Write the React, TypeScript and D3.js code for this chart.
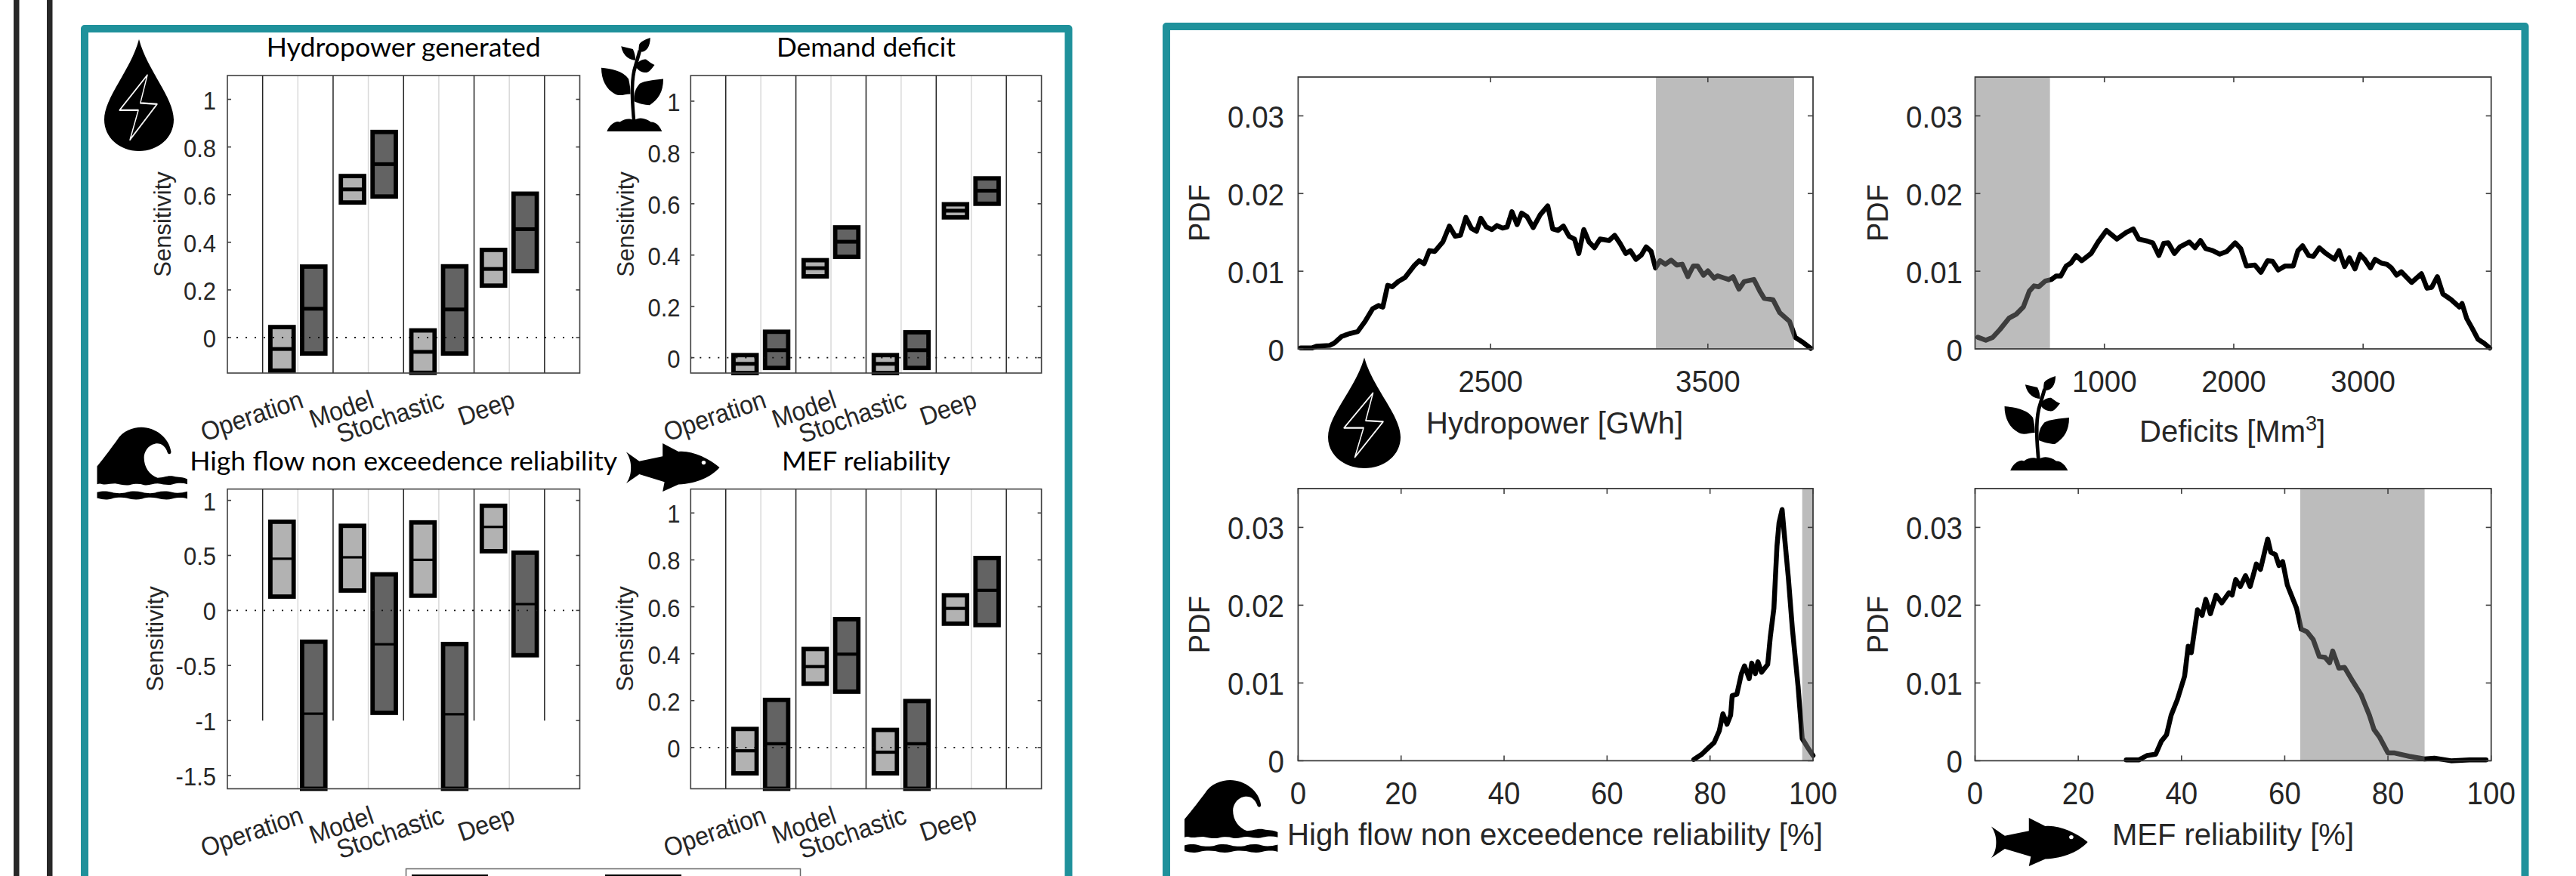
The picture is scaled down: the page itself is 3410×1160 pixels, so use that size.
import React from "react";
import * as d3 from "d3";

const FONT = "'Liberation Sans', Arial, sans-serif";
const TEXT = "#262626";
const TEAL = "#1f919b";

const categories = ["Operation", "Model", "Stochastic", "Deep"];

// [upper, median, lower] for Operation, Model, Stochastic, Deep
const hydroLight = [[0.044, -0.048, -0.139], [0.678, 0.622, 0.567], [0.03, -0.06, -0.148], [0.368, 0.288, 0.218]];
const hydroDark = [[0.298, 0.121, -0.067], [0.863, 0.728, 0.592], [0.299, 0.118, -0.067], [0.604, 0.455, 0.279]];
const deficitLight = [[0.01, -0.024, -0.06], [0.38, 0.349, 0.317], [0.01, -0.024, -0.06], [0.598, 0.573, 0.547]];
const deficitDark = [[0.101, 0.029, -0.04], [0.508, 0.452, 0.393], [0.099, 0.029, -0.04], [0.699, 0.651, 0.6]];
const highLight = [[0.806, 0.47, 0.126], [0.769, 0.483, 0.181], [0.8, 0.46, 0.134], [0.951, 0.759, 0.538]];
const highDark = [[-0.284, -0.938, -1.62], [0.328, -0.307, -0.93], [-0.305, -0.943, -1.62], [0.525, 0.058, -0.407]];
const mefLight = [[0.079, -0.014, -0.11], [0.42, 0.345, 0.272], [0.075, -0.02, -0.11], [0.649, 0.593, 0.528]];
const mefDark = [[0.203, 0.016, -0.176], [0.547, 0.398, 0.238], [0.198, 0.016, -0.176], [0.808, 0.67, 0.522]];

const ticks02 = [0, 0.2, 0.4, 0.6, 0.8, 1];
const ticks05 = [-1.5, -1, -0.5, 0, 0.5, 1];

// PDF curves: x value and density in thousandths
const hydroX = [1626,1677,1698,1759,1780,1814,1851,1888,1922,1957,1984,2004,2026,2047,2075,2106,2147,2171,2194,2218,2243,2280,2310,2337,2361,2386,2412,2435,2455,2480,2506,2529,2555,2576,2598,2622,2643,2667,2696,2729,2763,2786,2810,2835,2861,2886,2906,2929,2953,2978,3004,3045,3071,3096,3122,3143,3169,3194,3216,3239,3259,3280,3304,3331,3357,3382,3408,3433,3453,3480,3500,3529,3545,3576,3596,3616,3643,3667,3712,3739,3759,3800,3831,3876,3902,3933,3974];
const hydroY = [.11,.11,.33,.45,.74,1.6,1.97,2.23,3.53,5.17,5.58,5.39,8.18,8,8.67,9.19,10.68,11.35,10.97,12.65,12.54,13.76,15.81,14.51,14.62,16.93,15.51,15.14,16.81,15.7,15.36,15.88,15.55,15.7,17.67,16,17.48,17.04,15.62,17.3,18.41,15.44,15.25,15.81,14.51,14.14,12.28,15.36,13.76,13.02,14.14,13.95,14.62,13.58,12.28,12.65,11.53,12.09,13.13,12.54,10.42,11.35,10.9,11.42,10.79,10.9,9.3,10.68,10.68,9.49,10.04,9.11,9.41,9.11,8.93,9.3,7.7,8.67,8.93,7.44,6.51,6.32,4.65,3.53,1.49,.93,.07];
const deficitX = [22,83,137,192,264,318,373,420,456,492,543,590,626,662,705,741,781,825,897,951,1016,1096,1168,1223,1266,1331,1374,1421,1458,1494,1541,1584,1657,1700,1743,1783,1837,1892,1946,2011,2054,2098,2163,2210,2261,2300,2344,2398,2460,2496,2532,2579,2615,2662,2713,2778,2814,2857,2894,2937,2977,3013,3056,3093,3140,3183,3219,3259,3295,3375,3451,3494,3530,3574,3617,3682,3744,3765,3801,3845,3888,3935,3979];
const deficitY = [1.49,1.12,1.49,2.49,3.98,4.46,5.39,7.44,8.11,8,8.74,8.93,9.37,9.37,10.68,11.05,12.02,11.35,12.28,13.76,15.25,14.14,14.99,15.44,14.14,13.88,13.65,12.02,13.58,13.65,12.28,13.13,13.76,13.02,13.95,12.91,12.65,12.2,12.54,13.65,12.91,10.68,10.79,9.86,11.35,11.27,10.16,10.68,10.68,12.65,13.28,12.02,11.9,13.02,12.28,11.53,12.65,10.6,11.72,10.3,12.16,11.53,10.42,11.53,11.05,10.9,10.42,9.49,9.93,8.56,9.67,7.81,7.92,9.3,7.07,6.32,5.39,5.84,3.91,2.6,1.23,.74,.11];
const highX = [76.85,78.4,79.7,80.8,81.8,82.5,83.3,84,84.3,85.2,86.1,86.7,87.6,88.1,88.8,89.3,90,91.2,91.7,92.4,93,93.4,94,94.4,95.2,96,97.1,97.9,99,100];
const highY = [.17,.84,1.67,2.34,3.85,6.03,4.69,5.86,8.37,8.54,11.2,12.2,10.55,12.55,11.2,12.72,11.38,12.39,15.9,19.6,27.6,30.6,32.3,29.3,23.6,16.9,9.54,2.85,1.67,.67];
const mefX = [29.3,31.7,33.3,35,36.1,37.1,38,39.2,40.6,41.3,41.9,43.1,44,44.7,45.6,46.7,47.8,49.2,49.8,50.5,51.4,52.4,53.3,54.5,55.3,56.7,57.3,58.2,58.9,59.6,60.5,62.3,63.2,64.3,65.5,66.7,67.8,68.7,69.3,70.5,71.6,73.2,74.8,76.4,77.3,78.4,80,81.3,84.1,87.1,89,92.2,95.8,99];
const mefY = [.1,.1,.67,.84,2.51,3.35,5.86,7.87,10.88,14.73,13.9,19.4,18.7,20.75,18.9,21.3,20.3,21.6,21.3,23.3,22.4,23.8,22.4,25.3,24.6,28.5,26.8,26.5,25.1,25.6,22.6,19.6,16.9,16.6,15.6,13.4,13.3,12.6,14.1,11.9,12,10.2,8.5,5.86,4.02,3.01,1,1,.57,.24,.34,0,.1,.1];

const pdfTicks = [0, 0.01, 0.02, 0.03];

// ---------- icons (drawn in a 100x100 box and stretched) ----------
function Icon({ x0, y0, x1, y1, children }: any) {
  return <g transform={`translate(${x0},${y0}) scale(${(x1 - x0) / 100},${(y1 - y0) / 100})`}>{children}</g>;
}
const Drop = (p: any) => (
  <Icon {...p}>
    <path d="M50 0 C38 28 0 52 0 72 C0 88 22 100 50 100 C78 100 100 88 100 72 C100 52 62 28 50 0Z" fill="#000" />
    <path d="M62 32 L52 57 L76 58 L37 90 L49 63.5 L22 63.5Z" fill="none" stroke="#fff" strokeWidth={1.5} strokeLinejoin="round" />
  </Icon>
);
const Plant = (p: any) => (
  <Icon {...p}>
    <g fill="#000">
      <path d="M53 92 C50 70 48 50 53 35 L62 14" fill="none" stroke="#000" strokeWidth={5.5} />
      <path d="M0 32 C15 33 35 35 44 44 C46 50 47 54 47 60 C38 60 30 63 22 60 C8 55 0 45 0 32Z" />
      <path d="M100 44 C85 45 70 46 62 49 C55 54 52 60 53 68 C60 70 70 72 78 72 C92 66 100 58 100 44Z" />
      <path d="M79 0 C70 2 61 5 61 8 C60 12 60 15 62 15 C72 16 79 10 79 0Z" />
      <path d="M32 9 L51 12 C54 16 55 20 55 24 C47 24 35 20 32 9Z" />
      <path d="M55 30 C60 24 68 23 72 23 C78 26 82 28 86 29 C80 34 76 38 70 37 C64 37 58 34 55 30Z" />
      <path d="M9 100 C14 92 24 88 30 90 C38 86 46 86 53 88 C62 84 72 86 80 90 C90 90 95 96 98 100Z" />
    </g>
  </Icon>
);
const Wave = (p: any) => (
  <Icon {...p}>
    <g fill="#000">
      <path d="M0 54 C8 42 18 25 22 18 C28 5 40 0 49 0 C65 0 80 15 82 34 C82 38 79 38 78 35 C76 26 70 21 64 23 C56 25 52 35 52 42 C52 55 58 66 67 70 C74 70 78 66 85 68 C90 70 95 68 100 72 L100 79 C95 77 90 77 84 79 C78 81 74 79 67 78 C62 78 58 81 52 80 C47 78 42 78 36 80 C30 81 26 79 20 78 C15 78 10 80 6 79 C4 78 2 78 0 79Z" />
      <path d="M0 90 C6 88 10 88 16 90 C22 92 28 92 33 90 C38 88 44 88 50 90 C56 92 62 92 66 90 C72 88 78 88 83 90 C88 92 94 91 100 89 L100 99 C95 97 90 97 83 99 C78 101 72 100 66 98 C60 97 56 97 50 99 C44 101 38 100 33 98 C28 97 22 97 16 99 C10 101 6 100 0 98Z" />
    </g>
  </Icon>
);
const Fish = (p: any) => (
  <Icon {...p}>
    <path d="M0 18 L14 37 L39 27 L39 0 L56 17 C70 14 88 30 100 50 C92 68 76 84 56 85 L39 100 L41 80 L14 64 L0 83 C4 72 5 62 5 50 C5 40 4 30 0 18Z" fill="#000" />
    <ellipse cx={83} cy={40} rx={2.2} ry={4} fill="#fff" />
  </Icon>
);

// ---------- sensitivity box panel ----------
function BoxPanel({ title, titleW, titleY, box, yDomain, ticks, light, dark, labelX, tickRight, medW }: any) {
  const [x0, x1, y0, y1] = box;
  const x = d3.scaleLinear().domain([0, 10]).range([x0, x1]);
  const y = d3.scaleLinear().domain(yDomain).range([y1, y0]);
  const dividers = [1, 3, 5, 7, 9];
  const greys = [2, 4, 6, 8];
  const drawBox = (v: number[], c: number, fill: string, k: string) => (
    <g key={k}>
      <rect x={x(c - 0.33)} width={x(c + 0.33) - x(c - 0.33)} y={y(v[0])} height={y(v[2]) - y(v[0])} fill={fill} stroke="#000" strokeWidth={5.8} />
      <line x1={x(c - 0.33)} x2={x(c + 0.33)} y1={y(v[1])} y2={y(v[1])} stroke="#000" strokeWidth={medW} />
    </g>
  );
  return (
    <g fontFamily={FONT} fill={TEXT}>
      <text x={(x0 + x1) / 2} y={titleY} textAnchor="middle" fontFamily="Lato" fontSize={34} fill="#000" textLength={titleW} lengthAdjust="spacingAndGlyphs">{title}</text>
      {greys.map((g) => <line key={g} x1={x(g)} x2={x(g)} y1={y0} y2={y1} stroke="#d9d9d9" strokeWidth={1.5} />)}
      {dividers.map((g) => <line key={g} x1={x(g)} x2={x(g)} y1={y(yDomain[1])} y2={y(Math.max(-1, yDomain[0]))} stroke="#222" strokeWidth={1.5} />)}
      {light.map((v: number[], i: number) => drawBox(v, 1.55 + 2 * i, "#b2b2b2", "l" + i))}
      {dark.map((v: number[], i: number) => drawBox(v, 2.45 + 2 * i, "#636363", "d" + i))}
      <line x1={x0} x2={x1} y1={y(0)} y2={y(0)} stroke="#111" strokeWidth={1.8} strokeDasharray="2 10" />
      <rect x={x0} y={y0} width={x1 - x0} height={y1 - y0} fill="none" stroke="#404040" strokeWidth={1.6} />
      {ticks.map((t: number) => (
        <g key={t}>
          <line x1={x0} x2={x0 + 5} y1={y(t)} y2={y(t)} stroke="#404040" strokeWidth={1.6} />
          <line x1={x1} x2={x1 - 5} y1={y(t)} y2={y(t)} stroke="#404040" strokeWidth={1.6} />
          <text transform={`translate(${tickRight},${y(t) + 13}) scale(1,1.05)`} textAnchor="end" fontSize={31}>{t}</text>
        </g>
      ))}
      <text transform={`translate(${labelX},${(y0 + y1) / 2}) rotate(-90)`} y={0} textAnchor="middle" fontSize={31}>Sensitivity</text>
      {categories.map((c, i) => (
        <text key={c} transform={`translate(${x(2.2 + 2 * i)},${y1 + 45}) rotate(-19) scale(1,1.08)`} textAnchor="end" fontSize={32}>{c}</text>
      ))}
    </g>
  );
}

// ---------- PDF panel ----------
function PdfPanel({ box, xDomain, xTicks, xs, ys, band, tickRight, pdfX, xlabel, xlabelX, xlabelW, xlabelY, tickY, stretch }: any) {
  const [x0, x1, y0, y1] = box;
  const x = d3.scaleLinear().domain(xDomain).range([x0, x1]);
  const y = d3.scaleLinear().domain([0, 0.035]).range([y1, y0]);
  const line = d3.line<number>().x((d) => x(d)).y((_, i) => y(ys[i] / 1000));
  return (
    <g fontFamily={FONT} fill={TEXT}>
      <path d={line(xs) as string} fill="none" stroke="#000" strokeWidth={6.5} strokeLinejoin="round" strokeLinecap="round" />
      <rect x={x(band[0])} width={x(band[1]) - x(band[0])} y={y0} height={y1 - y0} fill="#797979" fillOpacity={0.5} />
      <rect x={x0} y={y0} width={x1 - x0} height={y1 - y0} fill="none" stroke="#333" strokeWidth={1.7} />
      {pdfTicks.map((t) => (
        <g key={t}>
          <line x1={x0} x2={x0 + 7} y1={y(t)} y2={y(t)} stroke="#404040" strokeWidth={1.6} />
          <line x1={x1} x2={x1 - 7} y1={y(t)} y2={y(t)} stroke="#404040" strokeWidth={1.6} />
          <text transform={`translate(${tickRight},${y(t) + 15.5}) scale(1,${stretch})`} textAnchor="end" fontSize={38.5}>{t}</text>
        </g>
      ))}
      {xTicks.map((t: number) => (
        <g key={t}>
          <line x1={x(t)} x2={x(t)} y1={y1} y2={y1 - 7} stroke="#404040" strokeWidth={1.6} />
          <line x1={x(t)} x2={x(t)} y1={y0} y2={y0 + 7} stroke="#404040" strokeWidth={1.6} />
          <text transform={`translate(${x(t)},${tickY}) scale(1,${stretch})`} textAnchor="middle" fontSize={38.5}>{t}</text>
        </g>
      ))}
      <text transform={`translate(${pdfX},${(y0 + y1) / 2 + 0}) rotate(-90)`} textAnchor="middle" fontSize={38}>PDF</text>
      {xlabelW ? (
        <text x={xlabelX} y={xlabelY} fontSize={40} textLength={xlabelW} lengthAdjust="spacingAndGlyphs">{xlabel}</text>
      ) : (
        <text x={xlabelX} y={xlabelY} fontSize={40}>
          {xlabel}
          <tspan fontSize={27} dy={-15}>3</tspan>
          <tspan dy={15}>]</tspan>
        </text>
      )}
    </g>
  );
}

export default function App() {
  return (
    <svg width={3410} height={1160} viewBox="0 0 3410 1160" style={{ position: "absolute", left: 0, top: 0, display: "block", background: "#fff" }}>
      {/* separators */}
      <rect x={18} y={0} width={7.5} height={1160} fill="#282828" />
      <rect x={62} y={0} width={7.5} height={1160} fill="#282828" />
      {/* teal frames */}
      <path d="M112 1170 V38 H1414.5 V1170" fill="none" stroke={TEAL} strokeWidth={10} strokeLinejoin="round" />
      <path d="M1544 1170 V35 H3342.5 V1170" fill="none" stroke={TEAL} strokeWidth={10} strokeLinejoin="round" />

      <BoxPanel title="Hydropower generated" titleW={363} titleY={75} box={[301, 767.5, 100, 494]} yDomain={[-0.149, 1.1]} ticks={ticks02} light={hydroLight} dark={hydroDark} labelX={226} tickRight={286} medW={5} />
      <BoxPanel title="Demand deficit" titleW={237} titleY={75} box={[914.3, 1378.6, 100, 494]} yDomain={[-0.06, 1.1]} ticks={ticks02} light={deficitLight} dark={deficitDark} labelX={839} tickRight={900.5} medW={5} />
      <BoxPanel title="High flow non exceedence reliability" titleW={566} titleY={623} box={[301, 767.5, 647.6, 1044.5]} yDomain={[-1.62, 1.103]} ticks={ticks05} light={highLight} dark={highDark} labelX={216} tickRight={286} medW={3.2} />
      <BoxPanel title="MEF reliability" titleW={223} titleY={623} box={[914.3, 1378.6, 647.6, 1044.5]} yDomain={[-0.176, 1.102]} ticks={ticks02} light={mefLight} dark={mefDark} labelX={838} tickRight={900.5} medW={4.2} />

      {/* legend (cut off by the page) */}
      <rect x={537.5} y={1150.5} width={522} height={30} fill="#fff" stroke="#666" strokeWidth={1.5} />
      <rect x={545} y={1158} width={101} height={10} fill="#000" />
      <rect x={801} y={1158} width={101} height={10} fill="#000" />

      <PdfPanel box={[1718.4, 2400, 102, 462]} xDomain={[1614, 3984]} xTicks={[2500, 3500]} xs={hydroX} ys={hydroY} band={[3261, 3897]} tickRight={1700} pdfX={1601} xlabel="Hydropower [GWh]" xlabelX={1888} xlabelW={340} xlabelY={574} tickY={519} stretch={1.05} />
      <PdfPanel box={[2614.5, 3297.7, 102, 462]} xDomain={[0, 3990]} xTicks={[1000, 2000, 3000]} xs={deficitX} ys={deficitY} band={[0, 579]} tickRight={2598} pdfX={2499} xlabel="Deficits [Mm" xlabelX={2832} xlabelY={585} tickY={519} stretch={1.05} />
      <PdfPanel box={[1718.4, 2400, 646.9, 1007.4]} xDomain={[0, 100]} xTicks={[0, 20, 40, 60, 80, 100]} xs={highX} ys={highY} band={[97.9, 100]} tickRight={1700} pdfX={1601} xlabel="High flow non exceedence reliability [%]" xlabelX={1704} xlabelW={709} xlabelY={1119} tickY={1065} stretch={1.1} />
      <PdfPanel box={[2614.5, 3297.7, 646.9, 1007.4]} xDomain={[0, 100]} xTicks={[0, 20, 40, 60, 80, 100]} xs={mefX} ys={mefY} band={[63, 87.1]} tickRight={2598} pdfX={2499} xlabel="MEF reliability [%]" xlabelX={2796} xlabelW={320} xlabelY={1119} tickY={1065} stretch={1.1} />

      {/* icons */}
      <Drop x0={138} y0={52} x1={230} y1={200} />
      <Plant x0={796} y0={50} x1={878} y1={174} />
      <Wave x0={128.5} y0={565.7} x1={248} y1={661.4} />
      <Fish x0={829} y0={587} x1={952.5} y1={651} />
      <Drop x0={1758} y0={473.5} x1={1854} y1={620} />
      <Plant x0={2653.5} y0={498} x1={2739} y1={623} />
      <Wave x0={1568} y0={1033} x1={1691.4} y1={1129} />
      <Fish x0={2636} y0={1083} x1={2763.6} y1={1147} />
    </svg>
  );
}
